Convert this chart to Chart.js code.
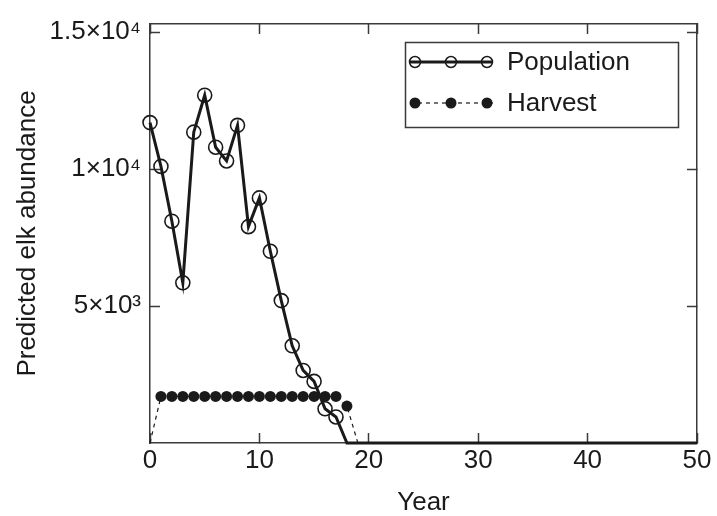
<!DOCTYPE html>
<html>
<head>
<meta charset="utf-8">
<script src="https://cdn.jsdelivr.net/npm/chart.js@4"></script>
<style>
  html, body { margin: 0; padding: 0; background: #fff; }
  canvas { display: block; }
</style>
</head>
<body>
<canvas id="chart" width="717" height="516"></canvas>
<script>
// ── Data ─────────────────────────────────────────────────────────────────────
const YEARS = [0, 1, 2, 3, 4, 5, 6, 7, 8, 9, 10, 11, 12, 13, 14, 15, 16, 17, 18, 19,
  20, 21, 22, 23, 24, 25, 26, 27, 28, 29, 30, 31, 32, 33, 34, 35, 36, 37, 38, 39,
  40, 41, 42, 43, 44, 45, 46, 47, 48, 49, 50];

const POPULATION = [11700, 10100, 8100, 5850, 11350, 12700, 10800, 10300, 11600, 7900,
  8950, 7000, 5200, 3550, 2650, 2250, 1250, 950, 0, 0,
  0, 0, 0, 0, 0, 0, 0, 0, 0, 0, 0, 0, 0, 0, 0, 0, 0, 0, 0, 0,
  0, 0, 0, 0, 0, 0, 0, 0, 0, 0, 0];

const HARVEST = [0, 1700, 1700, 1700, 1700, 1700, 1700, 1700, 1700, 1700,
  1700, 1700, 1700, 1700, 1700, 1700, 1700, 1700, 1350, 0,
  0, 0, 0, 0, 0, 0, 0, 0, 0, 0, 0, 0, 0, 0, 0, 0, 0, 0, 0, 0,
  0, 0, 0, 0, 0, 0, 0, 0, 0, 0, 0];

const SERIES_LABELS = ['Population', 'Harvest'];

const X_TICKS = [0, 10, 20, 30, 40, 50];
const Y_TICKS = [5000, 10000, 15000];
const Y_TICK_LABELS = ['5×10³', '1×10⁴', '1.5×10⁴'];

// ── Styling ──────────────────────────────────────────────────────────────────
const INK = '#1a1a1a';
const FRAME = '#3a3a3a';
const FONT = 'Liberation Sans, Arial, Helvetica, sans-serif';

const toPoints = vals => YEARS.map((yr, i) => ({ x: yr, y: vals[i] }));

// inward tick marks + frame line for every side
function axisLook(extra) {
  return Object.assign({
    border: { display: true, color: FRAME, width: 1.5 },
    grid: { drawOnChartArea: false, drawTicks: true, tickLength: -10, tickColor: FRAME, tickWidth: 1.5 },
  }, extra);
}

const setYTicks = scale => { scale.ticks = Y_TICKS.map(v => ({ value: v })); };
const setXTicks = scale => { scale.ticks = X_TICKS.map(v => ({ value: v })); };

// fixed box sizes so the plot frame sits where it does in the figure
function fixSize(w, h) {
  return s => {
    if (w != null) s.width = w;
    if (h != null) s.height = h;
    s.paddingTop = 0; s.paddingBottom = 0;
    s.paddingLeft = 0; s.paddingRight = 0;
  };
}

// Legend box drawn inside the plot, like the original figure
const legendBox = {
  id: 'legendBox',
  afterDraw(chart) {
    const ctx = chart.ctx;
    ctx.save();
    ctx.strokeStyle = FRAME;
    ctx.lineWidth = 1.5;
    ctx.setLineDash([]);
    ctx.strokeRect(405.5, 42.5, 273, 85);

    chart.data.datasets.forEach((ds, i) => {
      const y = 62 + i * 41;
      ctx.strokeStyle = INK;
      ctx.lineWidth = ds.borderWidth;
      ctx.setLineDash(ds.borderDash || []);
      ctx.beginPath();
      ctx.moveTo(410, y);
      ctx.lineTo(493, y);
      ctx.stroke();
      ctx.setLineDash([]);
      [415, 451, 487].forEach(cx => {
        ctx.beginPath();
        ctx.arc(cx, y, 5.5, 0, Math.PI * 2);
        if (ds.pointBackgroundColor === INK) {
          ctx.fillStyle = INK;
          ctx.fill();
        } else {
          ctx.lineWidth = 1.5;
          ctx.stroke();
        }
      });
      ctx.fillStyle = INK;
      ctx.font = '26px ' + FONT;
      ctx.textAlign = 'left';
      ctx.textBaseline = 'middle';
      ctx.fillText(ds.label, 507, y + 1);
    });
    ctx.restore();
  }
};

new Chart(document.getElementById('chart'), {
  type: 'line',
  data: {
    datasets: [
      {
        label: SERIES_LABELS[0],
        data: toPoints(POPULATION),
        borderColor: INK,
        borderWidth: 3,
        tension: 0,
        clip: false,
        pointRadius: c => (c.raw && c.raw.y > 0 ? 7 : 0),
        pointBorderWidth: 1.6,
        pointBorderColor: INK,
        pointBackgroundColor: 'rgba(0,0,0,0)',
      },
      {
        label: SERIES_LABELS[1],
        data: toPoints(HARVEST),
        borderColor: INK,
        borderWidth: 1.2,
        borderDash: [4, 4],
        tension: 0,
        clip: false,
        pointRadius: c => (c.raw && c.raw.y > 0 ? 5.5 : 0),
        pointBorderWidth: 0,
        pointBackgroundColor: INK,
      },
    ]
  },
  options: {
    responsive: false,
    animation: false,
    layout: { padding: 0 },
    plugins: { legend: { display: false }, tooltip: { enabled: false } },
    scales: {
      x: axisLook({
        type: 'linear', position: 'bottom', min: 0, max: 50,
        afterBuildTicks: setXTicks,
        afterFit: fixSize(null, 73),
        ticks: { color: INK, padding: 12, font: { family: FONT, size: 26 }, maxRotation: 0 },
        title: { display: true, text: 'Year', color: INK, padding: 0,
                 font: { family: FONT, size: 26, lineHeight: 1 } },
      }),
      x2: axisLook({
        type: 'linear', position: 'top', min: 0, max: 50,
        afterBuildTicks: setXTicks,
        afterFit: fixSize(null, 24),
        ticks: { display: false },
      }),
      y: axisLook({
        type: 'linear', position: 'left', min: 0, max: 15300,
        afterBuildTicks: setYTicks,
        afterFit: fixSize(150, null),
        ticks: {
          color: INK, padding: 19, font: { family: FONT, size: 26 },
          callback: v => Y_TICK_LABELS[Y_TICKS.indexOf(v)],
        },
        title: { display: true, text: 'Predicted elk abundance', color: INK,
                 padding: { top: 15, bottom: 0 }, font: { family: FONT, size: 26, lineHeight: 1 } },
      }),
      y2: axisLook({
        type: 'linear', position: 'right', min: 0, max: 15300,
        afterBuildTicks: setYTicks,
        afterFit: fixSize(20, null),
        ticks: { display: false },
      }),
    }
  },
  plugins: [legendBox]
});
</script>
</body>
</html>
